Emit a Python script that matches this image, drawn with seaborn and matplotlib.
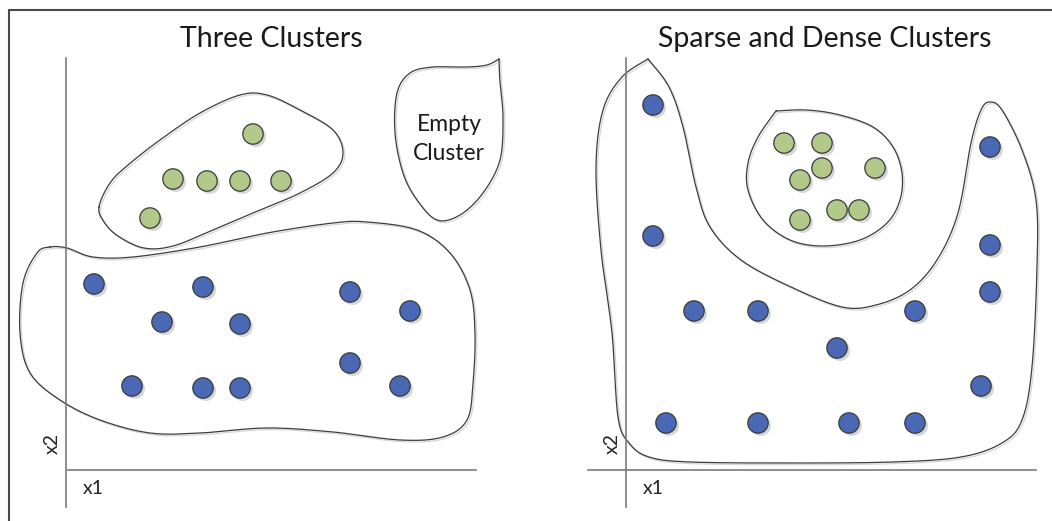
import numpy as np
import matplotlib
matplotlib.use("Agg")
import matplotlib.pyplot as plt
import matplotlib.patheffects as pe
from matplotlib.lines import Line2D
import seaborn as sns

# point positions (x1, x2), origin at the crossing of the two axes
left_green_x1 = [187, 107, 141, 174, 215, 84]
left_green_x2 = [336, 291, 289, 289, 289, 252]
left_blue_x1 = [28, 137, 284, 344, 96, 174, 284, 66, 137, 174, 334]
left_blue_x2 = [186, 183, 178, 159, 148, 146, 107, 84, 82, 82, 84]

right_green_x1 = [158, 196, 196, 174, 249, 174, 211, 233]
right_green_x2 = [327, 327, 302, 290, 302, 250, 260, 260]
right_blue_x1 = [27, 27, 364, 364, 364, 68, 132, 289, 211, 355, 40, 132, 223, 289]
right_blue_x2 = [365, 234, 323, 225, 178, 159, 159, 159, 122, 84, 47, 47, 47, 47]

# hand-drawn cluster boundaries (control points, smoothed below)
left_green_outline = [(33, 263), (44, 287), (62, 305), (94, 330), (134, 357), (174, 375),
                      (201, 375), (234, 360), (267, 340), (277, 317), (267, 297), (234, 277),
                      (194, 260), (147, 240), (107, 224), (78, 222), (52, 234), (38, 248)]
left_blue_outline = [(-16, 223), (1, 222), (27, 213), (67, 213), (134, 223), (201, 237),
                     (267, 247), (301, 248), (351, 240), (384, 217), (404, 180), (409, 137),
                     (407, 87), (401, 50), (377, 33), (334, 30), (267, 38), (201, 42),
                     (134, 37), (84, 37), (34, 50), (-6, 70), (-36, 97), (-46, 137),
                     (-43, 187), (-29, 217)]
empty_outline = [(433, 411), (421, 405), (401, 403), (367, 403), (344, 397), (331, 377),
                 (329, 337), (337, 297), (351, 270), (371, 250), (394, 255), (417, 277),
                 (434, 310), (437, 353), (434, 387), (433, 411)]
right_blue_outline = [(22, 411), (43, 383), (57, 343), (70, 283), (84, 243), (115, 210),
                      (165, 183), (216, 163), (250, 165), (284, 180), (311, 210), (332, 257),
                      (345, 327), (355, 360), (364, 368), (376, 360), (396, 320), (410, 270),
                      (411, 203), (406, 103), (396, 50), (376, 27), (335, 13), (267, 8),
                      (165, 7), (64, 8), (23, 13), (3, 27), (-8, 53), (-14, 137), (-25, 220),
                      (-30, 303), (-23, 360), (-4, 393), (22, 411)]
right_green_outline = [(150, 359), (181, 360), (214, 355), (247, 343), (267, 323), (276, 297),
                       (274, 270), (261, 247), (234, 230), (197, 224), (164, 230), (137, 250),
                       (122, 280), (122, 307), (132, 333), (150, 359)]

BLUE = "#4a68b4"
GREEN = "#b3c98a"


def smooth(pts, closed=True, n=24):
    # Catmull-Rom through the control points
    p = np.asarray(pts, float)
    if closed:
        ext = np.vstack([p[-1], p, p[0], p[1]])
    else:
        ext = np.vstack([p[0], p, p[-1]])
    out = []
    t = np.linspace(0, 1, n, endpoint=False)[:, None]
    for i in range(1, len(ext) - 2):
        p0, p1, p2, p3 = ext[i - 1], ext[i], ext[i + 1], ext[i + 2]
        seg = 0.5 * (2 * p1 + (-p0 + p2) * t + (2 * p0 - 5 * p1 + 4 * p2 - p3) * t ** 2
                     + (-p0 + 3 * p1 - 3 * p2 + p3) * t ** 3)
        out.append(seg)
    out.append(ext[-2][None])
    return np.vstack(out)


sns.set_theme(style="white")
plt.rcParams["font.family"] = ["Lato", "DejaVu Sans"]

fig = plt.figure(figsize=(10.52, 5.21), dpi=100)
ax_l = fig.add_axes([0, 0, 520 / 1052, 1])
ax_r = fig.add_axes([520 / 1052, 0, 532 / 1052, 1])

dot_fx = [pe.SimplePatchShadow(offset=(2, -2), shadow_rgbFace="0.55", alpha=0.35), pe.Normal()]
line_fx = [pe.SimpleLineShadow(offset=(1.2, -1.2), shadow_color="0.8", alpha=0.8), pe.Normal()]


def draw_panel(ax, xlim, green, blue, outlines, title, title_x):
    ax.set_xlim(*xlim)
    ax.set_ylim(-51, 470)
    ax.patch.set_alpha(0)
    for sp in ("top", "right"):
        ax.spines[sp].set_visible(False)
    for sp in ("left", "bottom"):
        ax.spines[sp].set_position(("data", 0))
        ax.spines[sp].set_color("#7a7a7a")
        ax.spines[sp].set_linewidth(1.2)
    ax.spines["left"].set_bounds(-37, 412)
    ax.spines["bottom"].set_bounds(xlim[0] + 68, 410)
    ax.set_xticks([])
    ax.set_yticks([])
    ax.set_xlabel("")
    ax.set_ylabel("")

    for pts, closed in outlines:
        c = smooth(pts, closed)
        ax.plot(c[:, 0], c[:, 1], color="#3c3c3c", lw=0.9, path_effects=line_fx)

    for (x, y), col in ((green, GREEN), (blue, BLUE)):
        sns.scatterplot(x=x, y=y, ax=ax, s=215, color=col, edgecolor="#3a3a3a",
                        linewidth=0.9, zorder=5, path_effects=dot_fx, legend=False)

    ax.text(title_x, 431, title, ha="center", va="center", fontsize=20.5, color="#1a1a1a")
    ax.text(27, -18, "x1", ha="center", va="center", fontsize=14, color="#222222")
    ax.text(-14, 27, "x2", ha="center", va="center", fontsize=14, color="#222222", rotation=90)


draw_panel(ax_l, (-66, 454), (left_green_x1, left_green_x2), (left_blue_x1, left_blue_x2),
           [(left_green_outline, True), (left_blue_outline, True), (empty_outline, False)],
           "Three Clusters", 205)
ax_l.text(383, 331, "Empty\nCluster", ha="center", va="center", fontsize=16.5,
          color="#1a1a1a", linespacing=1.5)

draw_panel(ax_r, (-106, 426), (right_green_x1, right_green_x2), (right_blue_x1, right_blue_x2),
           [(right_blue_outline, False), (right_green_outline, False)],
           "Sparse and Dense Clusters", 199)

# picture frame (left and top edges only)
fig.add_artist(Line2D([9 / 1052, 9 / 1052], [0, 1 - 10 / 521], color="#4a4a4a", lw=1.5))
fig.add_artist(Line2D([9 / 1052, 1], [1 - 10 / 521, 1 - 10 / 521], color="#4a4a4a", lw=1.5))

fig.savefig("out.png", dpi=100)
